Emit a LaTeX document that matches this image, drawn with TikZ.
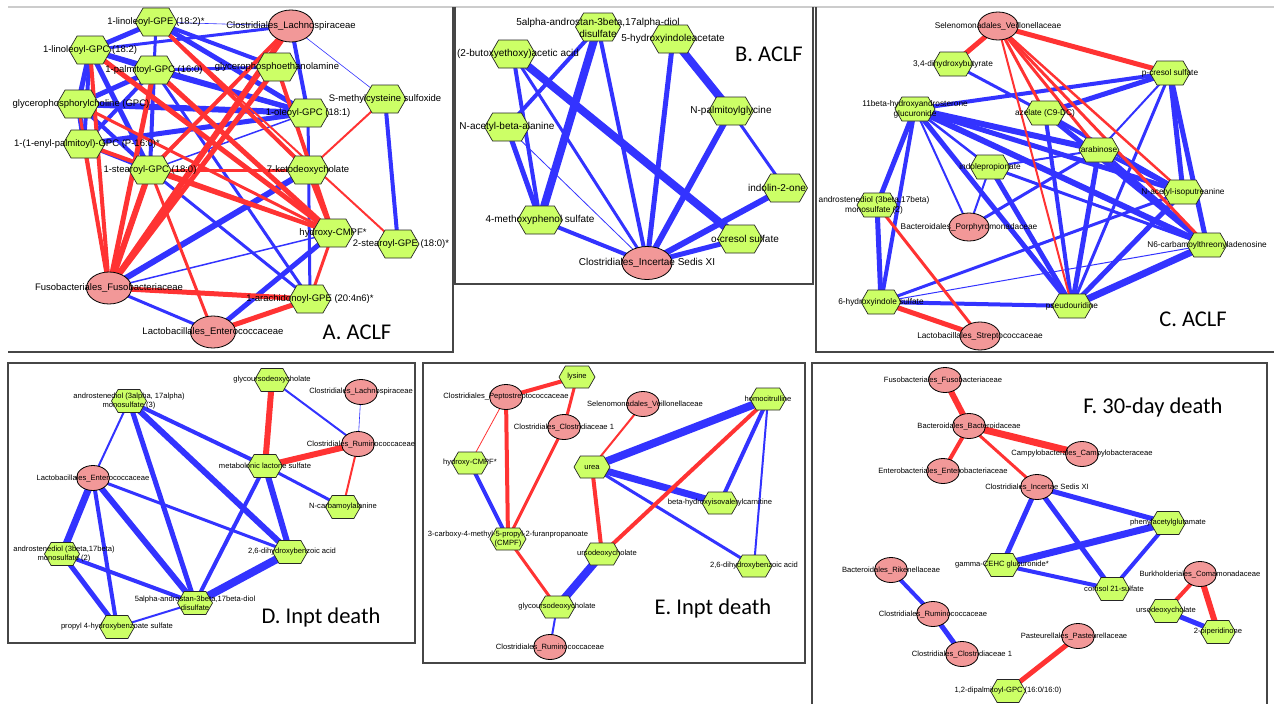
\documentclass[tikz,border=0pt]{standalone}
\usepackage{fontspec}
\setmainfont{Liberation Sans}
\newfontfamily\titlefont{Carlito}
\usepackage{tikz}
\usetikzlibrary{shapes.symbols,shapes.geometric,backgrounds}

\definecolor{hexgreen}{RGB}{204,255,102}
\definecolor{bugpink}{RGB}{242,152,152}
\definecolor{edgeblue}{RGB}{51,51,255}
\definecolor{edgered}{RGB}{255,51,51}
\definecolor{framegray}{RGB}{70,70,70}

\tikzset{
  hex/.style={signal, signal to=east and west, signal pointer angle=120,
    draw=black!85, line width=0.7, fill=hexgreen, inner sep=0pt,
    minimum width=42, minimum height=28},
  bug/.style={ellipse, draw=black, line width=0.8, fill=bugpink,
    inner sep=0pt, minimum width=45, minimum height=32},
  be/.style={draw=edgeblue, line width=#1},
  re/.style={draw=edgered, line width=#1},
  panel/.style={draw=framegray, line width=1.2},
  title/.style={font=\titlefont\fontsize{22.5}{24}\selectfont},
  every label/.style={align=center, inner sep=0pt}
}

\begin{document}
\begin{tikzpicture}[x=1pt,y=-1pt]
\useasboundingbox (0,0) rectangle (1274,704);

\draw[draw=black!20, line width=2] (8,7) -- (1274,7);
\draw[panel] (453,7) -- (453,352) -- (8,352);
\draw[panel] (455,7) -- (455,284) -- (813,284) -- (813,7);
\draw[panel] (816,7) -- (816,352) -- (1274,352);
\draw[panel] (8,363) rectangle (415,643);
\draw[panel] (423,363) rectangle (805,663);
\draw[panel] (812,704) -- (812,363) -- (1267,363) -- (1267,704);

\begin{scope}[font=\fontsize{9.5}{11}\selectfont]
\node[hex, label={center:{1-linoleoyl-GPE (18:2)*}}] (aGPE182) at (156,22) {};
\node[bug, label={center:{Clostridiales\_Lachnospiraceae}}] (aLach) at (291,26) {};
\node[hex, label={center:{1-linoleoyl-GPC (18:2)}}] (aGPC182) at (90,50) {};
\node[hex, label={center:{1-palmitoyl-GPC (16:0)}}] (aGPC160) at (154,70) {};
\node[hex, label={center:{glycerophosphoethanolamine}}] (aGPEA) at (277,67) {};
\node[hex, label={center:{S-methylcysteine sulfoxide}}] (aSMCS) at (385,99) {};
\node[hex, label={[xshift=3]center:{glycerophosphorylcholine (GPC)}}] (aGPCh) at (78,104) {};
\node[hex, label={center:{1-oleoyl-GPC (18:1)}}] (aGPC181) at (308,113) {};
\node[hex, label={[xshift=3]center:{1-(1-enyl-palmitoyl)-GPC (P-16:0)*}}] (aEnyl) at (84,144) {};
\node[hex, label={center:{1-stearoyl-GPC (18:0)}}] (aGPC180) at (150,170) {};
\node[hex, label={center:{7-ketodeoxycholate}}] (aKeto) at (308,170) {};
\node[hex, label={center:{hydroxy-CMPF*}}] (aHCMPF) at (333,233) {};
\node[hex, label={[xshift=3]center:{2-stearoyl-GPE (18:0)*}}] (aGPE180) at (398,244) {};
\node[bug, label={center:{Fusobacteriales\_Fusobacteriaceae}}] (aFuso) at (109,288) {};
\node[hex, label={center:{1-arachidonoyl-GPE (20:4n6)*}}] (aGPE204) at (310,299) {};
\node[bug, label={center:{Lactobacillales\_Enterococcaceae}}] (aEntero) at (213,332) {};
\end{scope}
\node[title] (aTitle) at (357,332) {A. ACLF};

\begin{scope}[on background layer]
\draw[be=5] (aGPE182.center) -- (aGPC182.center);
\draw[be=3] (aGPE182.center) -- (aGPC160.center);
\draw[be=5] (aGPE182.center) -- (aGPC181.center);
\draw[be=4] (aGPE182.center) -- (aGPEA.center);
\draw[be=0.6] (aGPE182.center) -- (aLach.center);
\draw[be=5] (aGPC182.center) -- (aGPC160.center);
\draw[be=5] (aGPC182.center) -- (aGPC181.center);
\draw[be=3] (aGPC182.center) -- (aLach.center);
\draw[be=5] (aGPC182.center) -- (aGPCh.center);
\draw[be=4] (aGPC182.center) -- (aEnyl.center);
\draw[be=5] (aGPC182.center) -- (aGPC180.center);
\draw[be=5] (aGPC160.center) -- (aGPCh.center);
\draw[be=5] (aGPC160.center) -- (aGPC181.center);
\draw[be=3] (aGPC160.center) -- (aGPEA.center);
\draw[be=4] (aGPC160.center) -- (aGPC180.center);
\draw[be=3] (aGPC160.center) -- (aGPE204.center);
\draw[be=4] (aGPC160.center) -- (aEnyl.center);
\draw[be=6] (aGPCh.center) -- (aGPC181.center);
\draw[be=5] (aGPCh.center) -- (aEnyl.center);
\draw[be=4] (aGPCh.center) -- (aGPC180.center);
\draw[be=5] (aEnyl.center) -- (aGPC181.center);
\draw[be=4] (aEnyl.center) -- (aGPC180.center);
\draw[be=1.5] (aGPC180.center) -- (aGPC181.center);
\draw[be=3] (aGPC180.center) -- (aGPE204.center);
\draw[be=4] (aLach.center) -- (aGPC181.center);
\draw[be=3] (aGPC181.center) -- (aGPE204.center);
\draw[be=0.6] (aLach.center) -- (aSMCS.center);
\draw[be=4] (aSMCS.center) -- (aGPE180.center);
\draw[be=6] (aFuso.center) -- (aKeto.center);
\draw[be=1.5] (aFuso.center) -- (aHCMPF.center);
\draw[be=3] (aFuso.center) -- (aEntero.center);
\draw[be=5] (aEntero.center) -- (aHCMPF.center);

\draw[re=4] (aFuso.center) -- (aGPC182.center);
\draw[re=3] (aFuso.center) -- (aGPCh.center);
\draw[re=4] (aFuso.center) -- (aEnyl.center);
\draw[re=6] (aFuso.center) -- (aGPC180.center);
\draw[re=5] (aFuso.center) -- (aGPC160.center);
\draw[re=5] (aFuso.center) -- (aGPEA.center);
\draw[re=6] (aFuso.center) -- (aLach.center);
\draw[re=5] (aFuso.center) -- (aGPE204.center);
\draw[re=5] (aGPC182.center) -- (aHCMPF.center);
\draw[re=5] (aGPC160.center) -- (aHCMPF.center);
\draw[re=3] (aGPCh.center) -- (aHCMPF.center);
\draw[re=4] (aEnyl.center) -- (aHCMPF.center);
\draw[re=4] (aGPC180.center) -- (aHCMPF.center);
\draw[re=4] (aGPE182.center) -- (aKeto.center);
\draw[re=3] (aGPC180.center) -- (aKeto.center);
\draw[re=5] (aKeto.center) -- (aHCMPF.center);
\draw[re=4] (aGPEA.center) -- (aHCMPF.center);
\draw[re=4] (aLach.center) -- (aGPC180.center);
\draw[re=2] (aSMCS.center) -- (aKeto.center);
\draw[re=2] (aGPE182.center) -- (aGPE180.center);
\draw[re=5] (aEntero.center) -- (aGPE204.center);
\draw[re=3] (aEntero.center) -- (aGPC180.center);
\draw[re=3] (aGPE204.center) -- (aHCMPF.center);
\end{scope}

\begin{scope}[font=\fontsize{10}{12}\selectfont,
  hex/.append style={minimum width=45, minimum height=28},
  bug/.append style={minimum width=50, minimum height=33}]
\node[hex, label={[yshift=-1]center:{5alpha-androstan-3beta,17alpha-diol\\disulfate}}] (bDiol) at (598,27) {};
\node[hex, label={center:{5-hydroxyindoleacetate}}] (bHIA) at (673,39) {};
\node[hex, label={[xshift=5]center:{(2-butoxyethoxy)acetic acid}}] (bButoxy) at (513,54) {};
\node[hex, label={center:{N-palmitoylglycine}}] (bNPG) at (731,111) {};
\node[hex, label={center:{N-acetyl-beta-alanine}}] (bNABA) at (507,127) {};
\node[hex, label={[xshift=-8]center:{indolin-2-one}}] (bIndolin) at (785,188) {};
\node[hex, label={center:{4-methoxyphenol sulfate}}] (bMPS) at (540,220) {};
\node[hex, label={[xshift=5]center:{o-cresol sulfate}}] (bOcres) at (740,239) {};
\node[bug, label={center:{Clostridiales\_Incertae Sedis XI}}] (bCISX) at (647,263) {};
\end{scope}
\node[title] (bTitle) at (769,54) {B. ACLF};

\begin{scope}[on background layer]
\draw[be=4] (bButoxy.center) -- (bMPS.center);
\draw[be=3] (bButoxy.center) -- (bCISX.center);
\draw[be=8] (bButoxy.center) -- (bOcres.center);
\draw[be=4] (bDiol.center) -- (bNABA.center);
\draw[be=8] (bDiol.center) -- (bMPS.center);
\draw[be=4] (bDiol.center) -- (bCISX.center);
\draw[be=5] (bNABA.center) -- (bMPS.center);
\draw[be=0.8] (bNABA.center) -- (bCISX.center);
\draw[be=8] (bHIA.center) -- (bNPG.center);
\draw[be=5] (bHIA.center) -- (bCISX.center);
\draw[be=6] (bNPG.center) -- (bCISX.center);
\draw[be=3] (bNPG.center) -- (bIndolin.center);
\draw[be=6] (bIndolin.center) -- (bCISX.center);
\draw[be=5] (bOcres.center) -- (bCISX.center);
\draw[be=4] (bMPS.center) -- (bCISX.center);
\end{scope}

\begin{scope}[font=\fontsize{8.3}{9.8}\selectfont,
  hex/.append style={minimum width=40, minimum height=24},
  bug/.append style={minimum width=40, minimum height=28}]
\node[bug, label={center:{Selenomonadales\_Veillonellaceae}}] (cVeil) at (998,26) {};
\node[hex, label={center:{3,4-dihydroxybutyrate}}] (cDHB) at (953,64) {};
\node[hex, label={center:{p-cresol sulfate}}] (cPcres) at (1170,73) {};
\node[hex, label={center:{11beta-hydroxyandrosterone\\glucuronide}}] (cOHAG) at (915,109) {};
\node[hex, label={center:{azelate (C9-DC)}}] (cAzel) at (1045,113) {};
\node[hex, label={center:{arabinose}}] (cArab) at (1099,150) {};
\node[hex, label={center:{indolepropionate}}] (cIndprop) at (990,167) {};
\node[hex, label={center:{N-acetyl-isoputreanine}}] (cNAIP) at (1183,192) {};
\node[hex, label={[xshift=-3]center:{androstenediol (3beta,17beta)\\monosulfate (2)}}] (cAndro) at (877,205) {};
\node[bug, label={center:{Bacteroidales\_Porphyromonadaceae}}] (cPorph) at (969,227) {};
\node[hex, label={center:{N6-carbamoylthreonyladenosine}}] (cN6) at (1207,245) {};
\node[hex, label={center:{6-hydroxyindole sulfate}}] (cHIS) at (881,302) {};
\node[hex, label={center:{pseudouridine}}] (cPseudo) at (1072,306) {};
\node[bug, label={center:{Lactobacillales\_Streptococcaceae}}] (cStrep) at (980,336) {};
\end{scope}
\node[title] (cTitle) at (1193,319) {C. ACLF};

\begin{scope}[on background layer]
\draw[be=3] (cDHB.center) -- (cAzel.center);
\draw[be=4] (cOHAG.center) -- (cPcres.center);
\draw[be=5] (cAzel.center) -- (cPcres.center);
\draw[be=6] (cOHAG.center) -- (cArab.center);
\draw[be=5] (cOHAG.center) -- (cNAIP.center);
\draw[be=6] (cOHAG.center) -- (cN6.center);
\draw[be=5] (cOHAG.center) -- (cAndro.center);
\draw[be=4] (cOHAG.center) -- (cHIS.center);
\draw[be=2] (cOHAG.center) -- (cPorph.center);
\draw[be=5] (cOHAG.center) -- (cPseudo.center);
\draw[be=2.5] (cOHAG.center) -- (cIndprop.center);
\draw[be=4] (cAzel.center) -- (cPseudo.center);
\draw[be=5] (cAzel.center) -- (cN6.center);
\draw[be=4] (cAzel.center) -- (cNAIP.center);
\draw[be=2] (cArab.center) -- (cIndprop.center);
\draw[be=5] (cArab.center) -- (cPseudo.center);
\draw[be=5] (cArab.center) -- (cN6.center);
\draw[be=4] (cArab.center) -- (cNAIP.center);
\draw[be=3] (cArab.center) -- (cPorph.center);
\draw[be=2] (cIndprop.center) -- (cPorph.center);
\draw[be=5] (cIndprop.center) -- (cPseudo.center);
\draw[be=3] (cIndprop.center) -- (cN6.center);
\draw[be=3] (cPcres.center) -- (cPseudo.center);
\draw[be=5] (cPcres.center) -- (cNAIP.center);
\draw[be=5] (cPcres.center) -- (cN6.center);
\draw[be=2] (cPcres.center) -- (cArab.center);
\draw[be=5] (cNAIP.center) -- (cPseudo.center);
\draw[be=7] (cN6.center) -- (cPseudo.center);
\draw[be=5] (cAndro.center) -- (cHIS.center);
\draw[be=3] (cHIS.center) -- (cNAIP.center);
\draw[be=1] (cHIS.center) -- (cN6.center);
\draw[be=4] (cHIS.center) -- (cPseudo.center);

\draw[re=5] (cVeil.center) -- (cDHB.center);
\draw[re=5] (cVeil.center) -- (cPcres.center);
\draw[re=3] (cVeil.center) -- (cAzel.center);
\draw[re=3] (cVeil.center) -- (cArab.center);
\draw[re=2.5] (cVeil.center) -- (cNAIP.center);
\draw[re=3] (cVeil.center) -- (cN6.center);
\draw[re=2] (cVeil.center) -- (cPseudo.center);
\draw[re=3] (cAndro.center) -- (cStrep.center);
\draw[re=5] (cHIS.center) -- (cStrep.center);
\end{scope}

\begin{scope}[font=\fontsize{7.6}{9}\selectfont,
  hex/.append style={minimum width=35, minimum height=23},
  bug/.append style={minimum width=33, minimum height=25}]
\node[hex, label={center:{glycoursodeoxycholate}}] (dGUDC) at (272,380) {};
\node[bug, label={center:{Clostridiales\_Lachnospiraceae}}] (dLach) at (361,392) {};
\node[hex, label={center:{androstenediol (3alpha, 17alpha)\\monosulfate (3)}}] (dAndroA) at (129,401) {};
\node[bug, label={[xshift=3]center:{Clostridiales\_Ruminococcaceae}}] (dRumi) at (358,444) {};
\node[hex, label={center:{metabolonic lactone sulfate}}] (dMLS) at (265,466) {};
\node[bug, label={center:{Lactobacillales\_Enterococcaceae}}] (dEntero) at (93,478) {};
\node[hex, label={center:{N-carbamoylalanine}}] (dNCA) at (343,507) {};
\node[hex, label={[xshift=2]center:{androstenediol (3beta,17beta)\\monosulfate (2)}}] (dAndroB) at (62,554) {};
\node[hex, label={[xshift=2]center:{2,6-dihydroxybenzoic acid}}] (dDHBA) at (290,552) {};
\node[hex, label={center:{5alpha-androstan-3beta,17beta-diol\\disulfate}}] (dDiol) at (195,603) {};
\node[hex, label={center:{propyl 4-hydroxybenzoate sulfate}}] (dPHBS) at (117,627) {};
\end{scope}
\node[title] (dTitle) at (321,617) {D. Inpt death};

\begin{scope}[on background layer]
\draw[be=2] (dGUDC.center) -- (dRumi.center);
\draw[be=0.6] (dLach.center) -- (dRumi.center);
\draw[be=2] (dAndroA.center) -- (dEntero.center);
\draw[be=4] (dAndroA.center) -- (dMLS.center);
\draw[be=5] (dAndroA.center) -- (dDiol.center);
\draw[be=6] (dAndroA.center) -- (dDHBA.center);
\draw[be=7] (dEntero.center) -- (dAndroB.center);
\draw[be=4] (dEntero.center) -- (dPHBS.center);
\draw[be=6] (dEntero.center) -- (dDiol.center);
\draw[be=3] (dEntero.center) -- (dDHBA.center);
\draw[be=4] (dMLS.center) -- (dDiol.center);
\draw[be=6] (dMLS.center) -- (dDHBA.center);
\draw[be=3] (dMLS.center) -- (dNCA.center);
\draw[be=4] (dAndroB.center) -- (dDiol.center);
\draw[be=5] (dAndroB.center) -- (dPHBS.center);
\draw[be=8] (dDiol.center) -- (dDHBA.center);
\draw[be=2] (dDiol.center) -- (dPHBS.center);

\draw[re=6] (dGUDC.center) -- (dMLS.center);
\draw[re=6] (dMLS.center) -- (dRumi.center);
\draw[re=2] (dRumi.center) -- (dNCA.center);
\end{scope}

\begin{scope}[font=\fontsize{7.6}{9}\selectfont,
  hex/.append style={minimum width=36, minimum height=22},
  bug/.append style={minimum width=33, minimum height=25}]
\node[hex, label={center:{lysine}}] (eLysine) at (577,377) {};
\node[bug, label={center:{Clostridiales\_Peptostreptococcaceae}}] (ePepto) at (506,397) {};
\node[bug, label={[xshift=2]center:{Selenomonadales\_Veillonellaceae}}] (eVeil) at (643,404) {};
\node[hex, label={center:{homocitrulline}}] (eHomo) at (768,399) {};
\node[bug, label={center:{Clostridiales\_Clostridiaceae 1}}] (eClost) at (564,427) {};
\node[hex, label={center:{hydroxy-CMPF*}}] (eHCMPF) at (470,463) {};
\node[hex, label={center:{urea}}] (eUrea) at (592,467) {};
\node[hex, label={center:{beta-hydroxyisovalerylcarnitine}}] (eBHIVC) at (720,503) {};
\node[hex, label={center:{3-carboxy-4-methyl-5-propyl-2-furanpropanoate\\(CMPF)}}] (eCMPF) at (508,539) {};
\node[hex, label={[xshift=5]center:{ursodeoxycholate}}] (eUDC) at (602,554) {};
\node[hex, label={center:{2,6-dihydroxybenzoic acid}}] (eDHBA) at (754,566) {};
\node[hex, label={center:{glycoursodeoxycholate}}] (eGUDC) at (557,607) {};
\node[bug, label={center:{Clostridiales\_Ruminococcaceae}}] (eRumi) at (550,647) {};
\end{scope}
\node[title] (eTitle) at (713,608) {E. Inpt death};

\begin{scope}[on background layer]
\draw[be=8] (eHomo.center) -- (eUrea.center);
\draw[be=7] (eUrea.center) -- (eBHIVC.center);
\draw[be=3] (eUrea.center) -- (eDHBA.center);
\draw[be=4] (eHomo.center) -- (eBHIVC.center);
\draw[be=2] (eHomo.center) -- (eDHBA.center);
\draw[be=4] (eHCMPF.center) -- (eCMPF.center);
\draw[be=8] (eUDC.center) -- (eGUDC.center);
\draw[be=2] (eGUDC.center) -- (eRumi.center);

\draw[re=4] (ePepto.center) -- (eLysine.center);
\draw[re=3] (eLysine.center) -- (eClost.center);
\draw[re=0.8] (ePepto.center) -- (eHCMPF.center);
\draw[re=4] (ePepto.center) -- (eCMPF.center);
\draw[re=3] (eClost.center) -- (eCMPF.center);
\draw[re=2] (eVeil.center) -- (eUrea.center);
\draw[re=4] (eUrea.center) -- (eUDC.center);
\draw[re=4] (eHomo.center) -- (eUDC.center);
\draw[re=3] (eCMPF.center) -- (eGUDC.center);
\end{scope}

\begin{scope}[font=\fontsize{7.6}{9}\selectfont,
  hex/.append style={minimum width=35, minimum height=23},
  bug/.append style={minimum width=33, minimum height=25}]
\node[bug, label={[xshift=-2]center:{Fusobacteriales\_Fusobacteriaceae}}] (fFuso) at (945,380) {};
\node[bug, label={center:{Bacteroidales\_Bacteroidaceae}}] (fBact) at (969,426) {};
\node[bug, label={center:{Campylobacterales\_Campylobacteraceae}}] (fCampy) at (1082,454) {};
\node[bug, label={center:{Enterobacteriales\_Enterobacteriaceae}}] (fEnt) at (943,471) {};
\node[bug, label={center:{Clostridiales\_Incertae Sedis XI}}] (fCISX) at (1037,487) {};
\node[hex, label={center:{phenylacetylglutamate}}] (fPAG) at (1168,523) {};
\node[hex, label={center:{gamma-CEHC glucuronide*}}] (fGCEHC) at (1002,565) {};
\node[bug, label={center:{Bacteroidales\_Rikenellaceae}}] (fRike) at (891,570) {};
\node[bug, label={center:{Burkholderiales\_Comamonadaceae}}] (fComam) at (1200,574) {};
\node[hex, label={[xshift=2]center:{cortisol 21-sulfate}}] (fCort) at (1112,589) {};
\node[hex, label={center:{ursodeoxycholate}}] (fUDC) at (1166,611) {};
\node[bug, label={center:{Clostridiales\_Ruminococcaceae}}] (fRumi) at (933,614) {};
\node[hex, label={center:{2-piperidinone}}] (fPip) at (1218,632) {};
\node[bug, label={[xshift=-4]center:{Pasteurellales\_Pasteurellaceae}}] (fPast) at (1078,636) {};
\node[bug, label={center:{Clostridiales\_Clostridiaceae 1}}] (fClost) at (962,654) {};
\node[hex, label={center:{1,2-dipalmitoyl-GPC (16:0/16:0)}}] (fDPPC) at (1008,691) {};
\end{scope}
\node[title] (fTitle) at (1153,407) {F. 30-day death};

\begin{scope}[on background layer]
\draw[be=5] (fCISX.center) -- (fPAG.center);
\draw[be=5] (fCISX.center) -- (fGCEHC.center);
\draw[be=5] (fCISX.center) -- (fCort.center);
\draw[be=7] (fGCEHC.center) -- (fPAG.center);
\draw[be=4] (fGCEHC.center) -- (fCort.center);
\draw[be=4] (fPAG.center) -- (fCort.center);
\draw[be=4] (fRike.center) -- (fRumi.center);
\draw[be=5] (fRumi.center) -- (fClost.center);
\draw[be=5] (fUDC.center) -- (fPip.center);

\draw[re=6] (fFuso.center) -- (fBact.center);
\draw[re=4] (fBact.center) -- (fEnt.center);
\draw[re=7] (fBact.center) -- (fCampy.center);
\draw[re=3] (fBact.center) -- (fCISX.center);
\draw[re=5] (fPast.center) -- (fDPPC.center);
\draw[re=4] (fComam.center) -- (fUDC.center);
\draw[re=6] (fComam.center) -- (fPip.center);
\end{scope}

\end{tikzpicture}
\end{document}
